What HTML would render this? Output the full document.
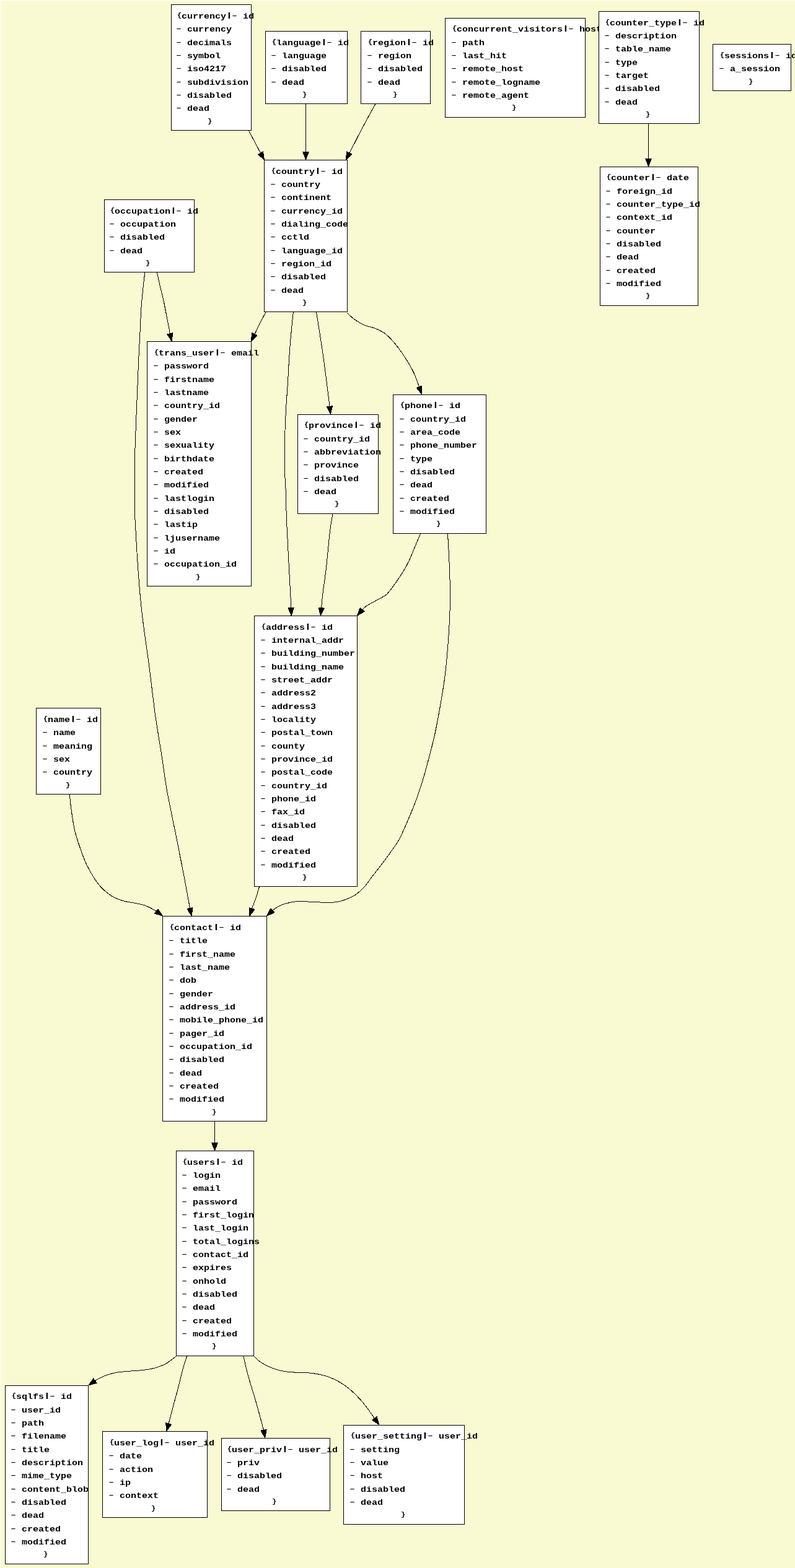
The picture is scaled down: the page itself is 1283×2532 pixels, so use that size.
<!DOCTYPE html>
<html lang="en">
<head>
<meta charset="utf-8">
<title>Database schema</title>
<style>
html,body{margin:0;padding:0}
body{width:1283px;height:2532px;background:#fafad2;position:relative;overflow:hidden}
.edge-t{position:absolute;left:0;top:0;width:1283px;height:1px;background:#fff}
.edge-l{position:absolute;left:0;top:0;width:1px;height:2532px;background:#fff}
.g{position:absolute;left:0;top:0;width:1283px;height:2532px;will-change:transform;font-family:"Liberation Mono","DejaVu Sans Mono",monospace;font-weight:bold;font-size:15px;line-height:24px;color:#000}
.n{position:absolute;box-sizing:border-box;border:1px solid #000;background:#fff}
.t{position:absolute;top:0;width:0;height:0}
.t span{position:absolute;left:0;white-space:pre;height:24px;transform:scaleY(0.875);transform-origin:0 15px}
.t b{display:inline-block;width:9px;text-align:center;position:relative;top:-2px;font-size:12px;font-weight:inherit}
.t b.o{left:1px}
.t b.v{transform:translateX(0.5px) scaleX(1.5)}
.t i{display:inline-block;width:9px;font-style:normal;font-weight:bold;transform:translateY(-1px) scale(1.5,0.7)}
svg{position:absolute;left:0;top:0}
svg path{fill:none;stroke:#000;stroke-width:1}
svg polygon{fill:#000;stroke:#000;stroke-width:1;stroke-linejoin:round}
</style>
</head>
<body>
<div class="edge-t"></div><div class="edge-l"></div>
<div class="g">
<div class="n" style="left:276px;top:7px;width:130px;height:204px"></div>
<div class="t" style="left:284px"><span style="top:15px"><b class="o">{</b>currency<b class="v">|</b><i>-</i> id</span><span style="top:36px"><i>-</i> currency</span><span style="top:58px"><i>-</i> decimals</span><span style="top:79px"><i>-</i> symbol</span><span style="top:100px"><i>-</i> iso4217</span><span style="top:122px"><i>-</i> subdivision</span><span style="top:143px"><i>-</i> disabled</span><span style="top:164px"><i>-</i> dead</span><span style="top:186px;left:50px"><b>}</b></span></div>
<div class="n" style="left:428px;top:50px;width:133px;height:118px"></div>
<div class="t" style="left:437px"><span style="top:58px"><b class="o">{</b>language<b class="v">|</b><i>-</i> id</span><span style="top:79px"><i>-</i> language</span><span style="top:100px"><i>-</i> disabled</span><span style="top:122px"><i>-</i> dead</span><span style="top:143px;left:50px"><b>}</b></span></div>
<div class="n" style="left:582px;top:50px;width:113px;height:118px"></div>
<div class="t" style="left:592px"><span style="top:58px"><b class="o">{</b>region<b class="v">|</b><i>-</i> id</span><span style="top:79px"><i>-</i> region</span><span style="top:100px"><i>-</i> disabled</span><span style="top:122px"><i>-</i> dead</span><span style="top:143px;left:41px"><b>}</b></span></div>
<div class="n" style="left:718px;top:29px;width:227px;height:161px"></div>
<div class="t" style="left:728px"><span style="top:36px"><b class="o">{</b>concurrent_visitors<b class="v">|</b><i>-</i> host</span><span style="top:58px"><i>-</i> path</span><span style="top:79px"><i>-</i> last_hit</span><span style="top:100px"><i>-</i> remote_host</span><span style="top:122px"><i>-</i> remote_logname</span><span style="top:143px"><i>-</i> remote_agent</span><span style="top:164px;left:97px"><b>}</b></span></div>
<div class="n" style="left:966px;top:18px;width:163px;height:182px"></div>
<div class="t" style="left:975px"><span style="top:26px"><b class="o">{</b>counter_type<b class="v">|</b><i>-</i> id</span><span style="top:47px"><i>-</i> description</span><span style="top:68px"><i>-</i> table_name</span><span style="top:90px"><i>-</i> type</span><span style="top:111px"><i>-</i> target</span><span style="top:132px"><i>-</i> disabled</span><span style="top:154px"><i>-</i> dead</span><span style="top:175px;left:66px"><b>}</b></span></div>
<div class="n" style="left:1150px;top:71px;width:127px;height:76px"></div>
<div class="t" style="left:1160px"><span style="top:79px"><b class="o">{</b>sessions<b class="v">|</b><i>-</i> id</span><span style="top:100px"><i>-</i> a_session</span><span style="top:122px;left:47px"><b>}</b></span></div>
<div class="n" style="left:426px;top:258px;width:135px;height:246px"></div>
<div class="t" style="left:436px"><span style="top:266px"><b class="o">{</b>country<b class="v">|</b><i>-</i> id</span><span style="top:287px"><i>-</i> country</span><span style="top:308px"><i>-</i> continent</span><span style="top:330px"><i>-</i> currency_id</span><span style="top:351px"><i>-</i> dialing_code</span><span style="top:372px"><i>-</i> cctld</span><span style="top:394px"><i>-</i> language_id</span><span style="top:415px"><i>-</i> region_id</span><span style="top:436px"><i>-</i> disabled</span><span style="top:458px"><i>-</i> dead</span><span style="top:479px;left:51px"><b>}</b></span></div>
<div class="n" style="left:968px;top:269px;width:159px;height:225px"></div>
<div class="t" style="left:977px"><span style="top:276px"><b class="o">{</b>counter<b class="v">|</b><i>-</i> date</span><span style="top:298px"><i>-</i> foreign_id</span><span style="top:319px"><i>-</i> counter_type_id</span><span style="top:340px"><i>-</i> context_id</span><span style="top:362px"><i>-</i> counter</span><span style="top:383px"><i>-</i> disabled</span><span style="top:404px"><i>-</i> dead</span><span style="top:426px"><i>-</i> created</span><span style="top:447px"><i>-</i> modified</span><span style="top:468px;left:64px"><b>}</b></span></div>
<div class="n" style="left:168px;top:322px;width:146px;height:118px"></div>
<div class="t" style="left:176px"><span style="top:330px"><b class="o">{</b>occupation<b class="v">|</b><i>-</i> id</span><span style="top:351px"><i>-</i> occupation</span><span style="top:372px"><i>-</i> disabled</span><span style="top:394px"><i>-</i> dead</span><span style="top:415px;left:58px"><b>}</b></span></div>
<div class="n" style="left:237px;top:551px;width:169px;height:396px"></div>
<div class="t" style="left:247px"><span style="top:559px"><b class="o">{</b>trans_user<b class="v">|</b><i>-</i> email</span><span style="top:580px"><i>-</i> password</span><span style="top:602px"><i>-</i> firstname</span><span style="top:623px"><i>-</i> lastname</span><span style="top:644px"><i>-</i> country_id</span><span style="top:666px"><i>-</i> gender</span><span style="top:687px"><i>-</i> sex</span><span style="top:708px"><i>-</i> sexuality</span><span style="top:730px"><i>-</i> birthdate</span><span style="top:751px"><i>-</i> created</span><span style="top:772px"><i>-</i> modified</span><span style="top:794px"><i>-</i> lastlogin</span><span style="top:815px"><i>-</i> disabled</span><span style="top:836px"><i>-</i> lastip</span><span style="top:858px"><i>-</i> ljusername</span><span style="top:879px"><i>-</i> id</span><span style="top:900px"><i>-</i> occupation_id</span><span style="top:922px;left:68px"><b>}</b></span></div>
<div class="n" style="left:480px;top:669px;width:131px;height:161px"></div>
<div class="t" style="left:489px"><span style="top:676px"><b class="o">{</b>province<b class="v">|</b><i>-</i> id</span><span style="top:698px"><i>-</i> country_id</span><span style="top:719px"><i>-</i> abbreviation</span><span style="top:740px"><i>-</i> province</span><span style="top:762px"><i>-</i> disabled</span><span style="top:783px"><i>-</i> dead</span><span style="top:804px;left:50px"><b>}</b></span></div>
<div class="n" style="left:634px;top:637px;width:151px;height:225px"></div>
<div class="t" style="left:644px"><span style="top:644px"><b class="o">{</b>phone<b class="v">|</b><i>-</i> id</span><span style="top:666px"><i>-</i> country_id</span><span style="top:687px"><i>-</i> area_code</span><span style="top:708px"><i>-</i> phone_number</span><span style="top:730px"><i>-</i> type</span><span style="top:751px"><i>-</i> disabled</span><span style="top:772px"><i>-</i> dead</span><span style="top:794px"><i>-</i> created</span><span style="top:815px"><i>-</i> modified</span><span style="top:836px;left:59px"><b>}</b></span></div>
<div class="n" style="left:410px;top:994px;width:167px;height:438px"></div>
<div class="t" style="left:420px"><span style="top:1002px"><b class="o">{</b>address<b class="v">|</b><i>-</i> id</span><span style="top:1023px"><i>-</i> internal_addr</span><span style="top:1044px"><i>-</i> building_number</span><span style="top:1066px"><i>-</i> building_name</span><span style="top:1087px"><i>-</i> street_addr</span><span style="top:1108px"><i>-</i> address2</span><span style="top:1130px"><i>-</i> address3</span><span style="top:1151px"><i>-</i> locality</span><span style="top:1172px"><i>-</i> postal_town</span><span style="top:1194px"><i>-</i> county</span><span style="top:1215px"><i>-</i> province_id</span><span style="top:1236px"><i>-</i> postal_code</span><span style="top:1258px"><i>-</i> country_id</span><span style="top:1279px"><i>-</i> phone_id</span><span style="top:1300px"><i>-</i> fax_id</span><span style="top:1322px"><i>-</i> disabled</span><span style="top:1343px"><i>-</i> dead</span><span style="top:1364px"><i>-</i> created</span><span style="top:1386px"><i>-</i> modified</span><span style="top:1407px;left:67px"><b>}</b></span></div>
<div class="n" style="left:58px;top:1143px;width:105px;height:140px"></div>
<div class="t" style="left:68px"><span style="top:1151px"><b class="o">{</b>name<b class="v">|</b><i>-</i> id</span><span style="top:1172px"><i>-</i> name</span><span style="top:1194px"><i>-</i> meaning</span><span style="top:1215px"><i>-</i> sex</span><span style="top:1236px"><i>-</i> country</span><span style="top:1258px;left:37px"><b>}</b></span></div>
<div class="n" style="left:262px;top:1479px;width:169px;height:332px"></div>
<div class="t" style="left:272px"><span style="top:1487px"><b class="o">{</b>contact<b class="v">|</b><i>-</i> id</span><span style="top:1508px"><i>-</i> title</span><span style="top:1530px"><i>-</i> first_name</span><span style="top:1551px"><i>-</i> last_name</span><span style="top:1572px"><i>-</i> dob</span><span style="top:1594px"><i>-</i> gender</span><span style="top:1615px"><i>-</i> address_id</span><span style="top:1636px"><i>-</i> mobile_phone_id</span><span style="top:1658px"><i>-</i> pager_id</span><span style="top:1679px"><i>-</i> occupation_id</span><span style="top:1700px"><i>-</i> disabled</span><span style="top:1722px"><i>-</i> dead</span><span style="top:1743px"><i>-</i> created</span><span style="top:1764px"><i>-</i> modified</span><span style="top:1786px;left:69px"><b>}</b></span></div>
<div class="n" style="left:284px;top:1858px;width:126px;height:332px"></div>
<div class="t" style="left:293px"><span style="top:1866px"><b class="o">{</b>users<b class="v">|</b><i>-</i> id</span><span style="top:1887px"><i>-</i> login</span><span style="top:1908px"><i>-</i> email</span><span style="top:1930px"><i>-</i> password</span><span style="top:1951px"><i>-</i> first_login</span><span style="top:1972px"><i>-</i> last_login</span><span style="top:1994px"><i>-</i> total_logins</span><span style="top:2015px"><i>-</i> contact_id</span><span style="top:2036px"><i>-</i> expires</span><span style="top:2058px"><i>-</i> onhold</span><span style="top:2079px"><i>-</i> disabled</span><span style="top:2100px"><i>-</i> dead</span><span style="top:2122px"><i>-</i> created</span><span style="top:2143px"><i>-</i> modified</span><span style="top:2164px;left:48px"><b>}</b></span></div>
<div class="n" style="left:8px;top:2237px;width:135px;height:289px"></div>
<div class="t" style="left:17px"><span style="top:2244px"><b class="o">{</b>sqlfs<b class="v">|</b><i>-</i> id</span><span style="top:2266px"><i>-</i> user_id</span><span style="top:2287px"><i>-</i> path</span><span style="top:2308px"><i>-</i> filename</span><span style="top:2330px"><i>-</i> title</span><span style="top:2351px"><i>-</i> description</span><span style="top:2372px"><i>-</i> mime_type</span><span style="top:2394px"><i>-</i> content_blob</span><span style="top:2415px"><i>-</i> disabled</span><span style="top:2436px"><i>-</i> dead</span><span style="top:2458px"><i>-</i> created</span><span style="top:2479px"><i>-</i> modified</span><span style="top:2500px;left:52px"><b>}</b></span></div>
<div class="n" style="left:165px;top:2311px;width:170px;height:140px"></div>
<div class="t" style="left:175px"><span style="top:2319px"><b class="o">{</b>user_log<b class="v">|</b><i>-</i> user_id</span><span style="top:2340px"><i>-</i> date</span><span style="top:2362px"><i>-</i> action</span><span style="top:2383px"><i>-</i> ip</span><span style="top:2404px"><i>-</i> context</span><span style="top:2426px;left:68px"><b>}</b></span></div>
<div class="n" style="left:357px;top:2322px;width:176px;height:118px"></div>
<div class="t" style="left:365px"><span style="top:2330px"><b class="o">{</b>user_priv<b class="v">|</b><i>-</i> user_id</span><span style="top:2351px"><i>-</i> priv</span><span style="top:2372px"><i>-</i> disabled</span><span style="top:2394px"><i>-</i> dead</span><span style="top:2415px;left:73px"><b>}</b></span></div>
<div class="n" style="left:554px;top:2301px;width:196px;height:161px"></div>
<div class="t" style="left:564px"><span style="top:2308px"><b class="o">{</b>user_setting<b class="v">|</b><i>-</i> user_id</span><span style="top:2330px"><i>-</i> setting</span><span style="top:2351px"><i>-</i> value</span><span style="top:2372px"><i>-</i> host</span><span style="top:2394px"><i>-</i> disabled</span><span style="top:2415px"><i>-</i> dead</span><span style="top:2436px;left:82px"><b>}</b></span></div>
</div>
<svg width="1283" height="2532" viewBox="0 0 1283 2532" shape-rendering="crispEdges">
<path d="M401.3,210.7L420.5,247.1"/><polygon points="426.6,258.3 416.4,249.3 424.5,244.9"/>
<path d="M493.5,167.7L493.5,245.5"/><polygon points="493.5,258.3 488.9,245.5 498.1,245.5"/>
<path d="M606.0,167.7C604.1,171.2 598.4,181.3 594.5,188.5C590.6,195.7 586.3,203.7 582.6,210.7C578.9,217.7 575.6,224.5 572.5,230.5C569.4,236.5 565.3,244.1 563.9,246.8"/><polygon points="558.3,258.3 559.7,244.8 568.0,248.8"/>
<path d="M1046.5,199.5L1046.5,256.4"/><polygon points="1046.5,269.2 1041.9,256.4 1051.1,256.4"/>
<path d="M253.3,439.5C254.2,443.4 256.8,455.5 258.5,463.0C260.2,470.5 261.9,476.0 263.8,484.7C265.7,493.4 268.1,506.1 269.9,515.1C271.7,524.1 273.7,534.7 274.4,538.7"/><polygon points="277.0,551.2 269.9,539.6 279.0,537.7"/>
<path d="M233.8,439.5C232.9,448.1 229.7,474.1 228.4,490.8C227.1,507.6 226.6,525.2 225.8,540.0C225.0,554.8 224.7,559.8 223.8,579.5C222.9,599.2 221.6,632.2 220.5,658.5C219.4,684.8 218.1,716.1 217.5,737.5C216.9,758.9 217.1,772.0 217.1,786.8C217.1,801.6 217.1,813.1 217.5,826.3C217.9,839.5 218.7,851.0 219.5,865.8C220.3,880.6 221.2,897.1 222.5,915.2C223.8,933.3 225.7,956.9 227.4,974.4C229.1,991.9 230.7,1002.9 232.9,1020.0C235.2,1037.1 238.0,1054.8 240.9,1076.9C243.8,1099.0 247.0,1129.0 250.3,1152.7C253.6,1176.4 257.6,1198.6 260.8,1219.1C264.0,1239.6 265.7,1255.4 269.3,1275.9C272.9,1296.4 278.2,1320.2 282.6,1342.3C287.0,1364.4 291.8,1387.9 295.8,1408.6C299.8,1429.3 304.7,1456.9 306.5,1466.6"/><polygon points="309.1,1479.1 302.0,1467.5 311.0,1465.6"/>
<path d="M429.0,504.0C427.5,506.9 422.9,515.2 419.9,521.2C416.9,527.2 412.4,536.7 410.9,539.8"/><polygon points="405.1,551.2 406.8,537.7 415.0,541.8"/>
<path d="M473.3,503.6C472.4,513.0 469.4,540.9 467.9,560.1C466.4,579.3 465.4,602.0 464.4,618.6C463.3,635.2 462.4,646.4 461.6,660.0C460.8,673.6 460.2,686.9 459.8,700.3C459.4,713.7 459.5,729.4 459.5,740.6C459.5,751.8 459.4,757.3 459.8,767.4C460.2,777.5 461.2,789.8 461.6,801.0C462.0,812.2 461.9,824.5 462.2,834.6C462.5,844.7 462.9,848.0 463.6,861.4C464.3,874.8 465.4,898.3 466.3,915.1C467.2,931.9 468.3,951.0 468.9,962.1C469.5,973.2 469.5,978.4 469.6,981.6"/><polygon points="470.3,994.4 465.0,981.9 474.2,981.4"/>
<path d="M510.5,503.6C512.2,514.2 517.6,547.7 520.5,567.2C523.4,586.8 525.7,606.1 527.6,620.9C529.5,635.7 531.2,650.3 532.0,656.2"/><polygon points="533.4,668.9 527.4,656.7 536.5,655.7"/>
<path d="M560.3,505.2C562.2,506.9 567.3,512.4 572.0,515.7C576.7,519.0 582.5,522.6 588.4,525.1C594.2,527.6 601.3,528.4 607.1,530.9C612.9,533.4 618.0,535.8 623.4,540.3C628.8,544.8 634.3,551.0 639.8,557.8C645.3,564.6 651.5,573.8 656.2,581.2C660.9,588.6 664.5,594.9 667.9,602.2C671.3,609.5 675.1,621.0 676.5,624.7"/><polygon points="680.7,636.8 672.1,626.2 680.8,623.2"/>
<path d="M536.8,829.9C536.0,835.1 533.8,847.2 532.1,861.4C530.4,875.6 528.5,899.4 526.7,915.1C524.9,930.8 522.7,944.3 521.3,955.4C519.9,966.5 519.0,977.3 518.6,981.7"/><polygon points="517.3,994.4 514.0,981.2 523.2,982.1"/>
<path d="M678.5,861.7C676.9,865.5 672.2,876.9 669.1,884.3C666.0,891.7 662.9,899.6 659.8,906.1C656.7,912.6 654.0,917.3 650.4,923.3C646.8,929.3 642.0,936.2 637.9,942.0C633.8,947.8 628.6,954.8 625.5,958.3C622.4,961.8 622.9,960.8 619.2,963.0C615.6,965.2 608.3,969.0 603.6,971.6C598.9,974.2 594.4,976.5 591.2,978.6C588.0,980.7 585.7,983.4 584.6,984.4"/><polygon points="576.4,994.2 581.1,981.4 588.2,987.4"/>
<path d="M722.5,861.7C722.8,867.6 723.9,884.5 724.5,896.8C725.1,909.1 725.7,924.3 726.0,935.7C726.3,947.1 726.4,956.0 726.4,965.0C726.4,974.0 726.3,980.3 725.9,990.0C725.5,999.7 724.9,1012.2 724.2,1023.2C723.5,1034.2 722.7,1045.2 721.7,1056.3C720.7,1067.3 719.8,1078.4 718.4,1089.5C717.0,1100.6 715.2,1111.6 713.4,1122.7C711.6,1133.8 709.7,1144.8 707.6,1155.9C705.5,1167.0 703.5,1178.0 701.0,1189.1C698.5,1200.1 695.6,1211.2 692.7,1222.2C689.8,1233.2 686.9,1244.3 683.6,1255.4C680.3,1266.5 676.8,1277.5 672.8,1288.6C668.8,1299.7 664.2,1310.8 659.5,1321.8C654.8,1332.8 648.9,1346.6 644.6,1354.9C640.3,1363.2 636.4,1367.2 633.5,1371.5C630.6,1375.8 630.5,1376.0 627.0,1380.8C623.5,1385.5 617.0,1394.2 612.6,1400.0C608.2,1405.8 604.4,1410.4 600.4,1415.6C596.4,1420.8 593.3,1426.3 588.8,1431.2C584.3,1436.1 578.4,1441.6 573.2,1445.2C568.0,1448.8 562.2,1450.8 557.6,1452.6C553.0,1454.4 550.5,1455.3 545.9,1456.1C541.3,1456.9 536.8,1457.4 530.3,1457.5C523.8,1457.6 515.0,1456.8 506.9,1456.5C498.8,1456.2 488.1,1455.3 481.6,1455.5C475.1,1455.7 472.1,1456.7 467.9,1457.5C463.7,1458.3 459.9,1459.1 456.3,1460.4C452.7,1461.7 449.3,1463.7 446.5,1465.3C443.7,1466.9 440.7,1469.4 439.6,1470.2"/><polygon points="430.5,1479.3 436.3,1467.0 442.8,1473.5"/>
<path d="M418.6,1431.6C417.7,1434.4 415.4,1442.8 413.4,1448.7C411.4,1454.6 407.8,1464.0 406.6,1467.1"/><polygon points="402.7,1479.3 402.2,1465.7 411.0,1468.5"/>
<path d="M112.3,1282.7C112.8,1286.8 113.6,1297.7 115.0,1307.4C116.4,1317.1 118.1,1330.5 120.6,1341.1C123.1,1351.7 126.5,1361.3 129.9,1371.0C133.3,1380.7 136.2,1389.4 141.2,1399.1C146.2,1408.8 153.7,1421.2 159.9,1429.0C166.1,1436.8 172.4,1441.6 178.6,1445.8C184.8,1450.0 191.1,1452.3 197.3,1454.3C203.5,1456.3 209.8,1456.7 216.0,1458.0C222.2,1459.3 228.7,1460.1 234.7,1462.3C240.7,1464.5 249.3,1469.9 252.2,1471.4"/><polygon points="262.4,1479.1 249.4,1475.1 255.0,1467.7"/>
<path d="M346.5,1810.5L346.5,1845.6"/><polygon points="346.5,1858.4 341.9,1845.6 351.1,1845.6"/>
<path d="M284.3,2189.9C283.2,2190.8 280.4,2193.3 277.5,2195.4C274.6,2197.5 270.9,2200.3 267.2,2202.3C263.5,2204.3 259.5,2206.0 255.2,2207.4C250.9,2208.8 246.4,2210.0 241.5,2210.9C236.6,2211.8 231.7,2212.3 226.0,2212.9C220.3,2213.5 213.2,2213.8 207.2,2214.3C201.2,2214.8 195.2,2215.2 190.0,2216.0C184.8,2216.8 180.6,2217.8 176.3,2219.1C172.0,2220.4 168.1,2221.9 164.3,2223.7C160.5,2225.5 155.2,2228.7 153.3,2229.7"/><polygon points="142.9,2237.1 150.7,2225.9 156.0,2233.4"/>
<path d="M301.5,2189.9C300.4,2193.7 296.9,2204.2 294.6,2212.6C292.3,2220.9 290.1,2231.2 287.8,2240.0C285.5,2248.8 283.5,2255.9 280.9,2265.7C278.3,2275.5 273.6,2293.4 272.1,2298.9"/><polygon points="268.6,2311.2 267.7,2297.6 276.6,2300.2"/>
<path d="M392.7,2189.7C394.1,2195.5 398.0,2212.5 401.4,2224.8C404.8,2237.2 409.1,2249.7 413.1,2263.8C417.1,2277.9 423.5,2301.7 425.5,2309.3"/><polygon points="427.7,2321.9 421.0,2310.1 430.1,2308.5"/>
<path d="M409.6,2189.7C411.2,2191.2 415.2,2195.7 419.0,2198.5C422.8,2201.3 427.7,2204.0 432.6,2206.3C437.5,2208.6 443.0,2210.7 448.2,2212.2C453.4,2213.7 458.3,2214.4 463.8,2215.1C469.3,2215.8 475.5,2216.1 481.3,2216.4C487.1,2216.7 493.0,2216.5 498.9,2217.0C504.8,2217.5 510.6,2218.3 516.4,2219.6C522.2,2220.9 528.4,2222.6 533.9,2224.8C539.4,2227.0 544.6,2229.7 549.5,2232.6C554.4,2235.5 558.7,2238.7 563.2,2242.4C567.8,2246.1 572.3,2250.3 576.8,2255.0C581.3,2259.7 585.8,2264.7 590.4,2270.6C595.0,2276.5 602.0,2287.1 604.4,2290.5"/><polygon points="611.9,2300.8 600.6,2293.2 608.1,2287.7"/>
</svg>
</body>
</html>
